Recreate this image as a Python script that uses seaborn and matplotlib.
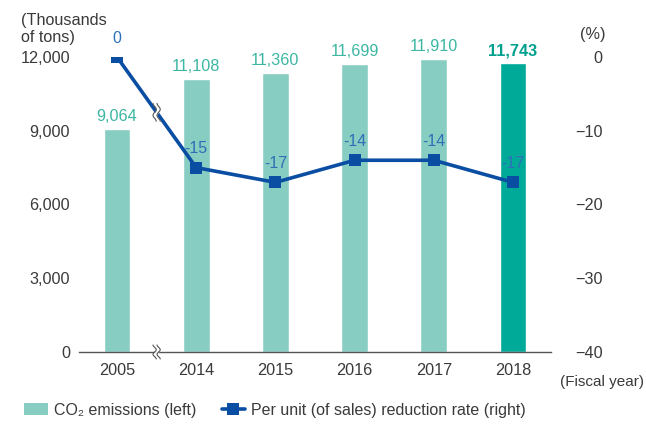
import numpy as np
import matplotlib
matplotlib.use('Agg')
import matplotlib.pyplot as plt
import matplotlib.transforms as mtransforms
from matplotlib.patches import Patch
from matplotlib.lines import Line2D
import pandas as pd
import seaborn as sns

# data
years = ['2005', '2014', '2015', '2016', '2017', '2018']
emissions = [9064, 11108, 11360, 11699, 11910, 11743]   # thousands of tons (left)
rates = [0, -15, -17, -14, -14, -17]                     # % (right)
left_ticks = [0, 3000, 6000, 9000, 12000]
right_ticks = [0, -10, -20, -30, -40]

sns.set_theme(style='white')
plt.rcParams['font.family'] = ['Liberation Sans', 'DejaVu Sans']
plt.rcParams['font.size'] = 11.5

bar_light = '#88cdc1'
bar_dark = '#00aa98'
line_blue = '#0a4ea3'
label_teal = '#3cb7a2'
label_dark = '#00a08e'
label_blue = '#2e6fb7'
text_gray = '#3a3a3a'

fig = plt.figure(figsize=(6.46, 4.28), dpi=100)
ax = fig.add_axes([0.1223, 0.1776, 0.7307, 0.6892])

df = pd.DataFrame({'year': years, 'emissions': emissions})
palette = {y: bar_light for y in years}
palette['2018'] = bar_dark
sns.barplot(data=df, x='year', y='emissions', hue='year', palette=palette,
            width=0.34, saturation=1, legend=False, ax=ax)
ax.set_xlim(-0.48, 5.48)
ax.set_ylim(0, 12000)
ax.set_xlabel('')
ax.set_ylabel('')
ax.set_yticks(left_ticks)
ax.set_yticklabels([f'{v:,}' for v in left_ticks], color=text_gray, fontsize=11.7)
ax.tick_params(axis='y', length=0, pad=6.5)
ax.tick_params(axis='x', length=0, pad=8, labelcolor=text_gray, labelsize=11.7)
for s in ['left', 'right', 'top']:
    ax.spines[s].set_visible(False)
ax.spines['bottom'].set_color('#555555')
ax.spines['bottom'].set_linewidth(1.0)

# bar value labels
for i, v in enumerate(emissions):
    last = i == len(emissions) - 1
    ax.annotate(f'{v:,}', (i, v), xytext=(0, 9), textcoords='offset points',
                ha='center', va='center', fontsize=11.7,
                color=label_dark if last else label_teal,
                fontweight='bold' if last else 'normal')

# reduction rate line on the right axis
ax2 = ax.twinx()
sns.lineplot(x=np.arange(len(rates)), y=rates, ax=ax2, color=line_blue, lw=2.6,
             marker='s', markersize=8.5, markeredgewidth=0, zorder=3)
ax2.set_ylim(-40, 0)
ax2.set_xlim(-0.48, 5.48)
ax2.set_yticks(right_ticks)
ax2.set_yticklabels([str(v).replace('-', '\u2212') for v in right_ticks],
                    color=text_gray, fontsize=11.7, ha='right')
ax2.tick_params(axis='y', length=0, pad=37)
for s in ax2.spines.values():
    s.set_visible(False)

for i, v in enumerate(rates):
    ax2.annotate(f'{v}', (i, v), xytext=(0, 13.5), textcoords='offset points',
                 ha='center', va='center', fontsize=11.5, color=label_blue, zorder=6)


# small wavy break marks
def draw_break(axis, x, y, half_h=0.08):
    trans = fig.dpi_scale_trans + mtransforms.ScaledTranslation(x, y, axis.transData)
    t = np.linspace(-1, 1, 50)
    ys = t * half_h
    wig = 0.016 * np.sin(t * np.pi * 1.5)
    axis.fill_betweenx(ys, -0.02 + wig, 0.02 + wig, transform=trans,
                       color='white', zorder=7, clip_on=False, lw=0)
    for dx in (-0.02, 0.02):
        axis.plot(dx + wig, ys, transform=trans, color='#555555', lw=0.8,
                  clip_on=False, zorder=8)


draw_break(ax2, 0.5, (rates[0] + rates[1]) / 2, half_h=0.09)
draw_break(ax2, 0.5, -40, half_h=0.07)

# unit labels
fig.text(21 / 646, 1 - 29 / 428, '(Thousands\nof tons)', ha='left', va='center',
         color=text_gray, fontsize=11.7, linespacing=1.15)
fig.text(593 / 646, 1 - 35 / 428, '(%)', ha='center', va='center',
         color=text_gray, fontsize=11.7)
fig.text(644 / 646, 1 - 382 / 428, '(Fiscal year)', ha='right', va='center',
         color=text_gray, fontsize=11)

# legend
handles = [Patch(facecolor=bar_light, edgecolor='none'),
           Line2D([], [], color=line_blue, lw=2.6, marker='s', markersize=8.5,
                  markeredgewidth=0)]
labels = ['CO\u2082 emissions (left)', 'Per unit (of sales) reduction rate (right)']
leg = fig.legend(handles, labels, loc='center left',
                 bbox_to_anchor=(10 / 646, 1 - 410 / 428), ncol=2, frameon=False,
                 handlelength=1.45, handleheight=0.8, handletextpad=0.4,
                 columnspacing=1.6, fontsize=11.5)
for txt in leg.get_texts():
    txt.set_color(text_gray)

fig.savefig('out.png', dpi=100)
